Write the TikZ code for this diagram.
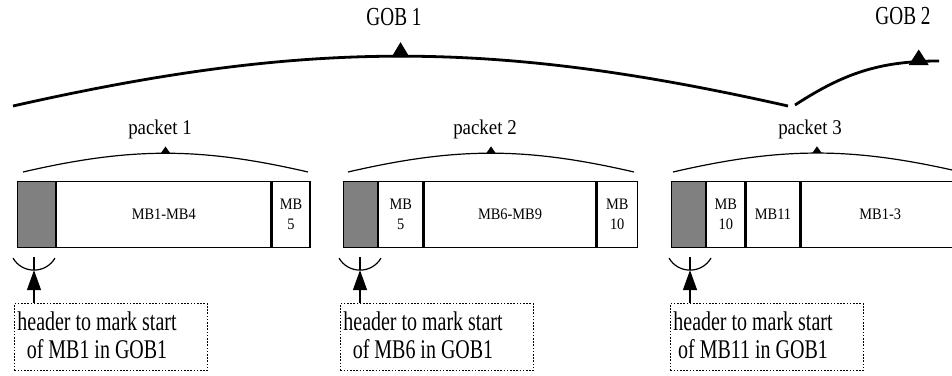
\documentclass[tikz,border=0pt]{standalone}
\usepackage{fontspec}
\setmainfont{Liberation Serif}
\newfontfamily\gobfamily{Liberation Serif}[FakeStretch=0.74]
\newfontfamily\cellfamily{Liberation Serif}[FakeStretch=0.9]
\usetikzlibrary{arrows.meta}

\definecolor{hdrgray}{RGB}{128,128,128}

\tikzset{
  gobarc/.style={line width=2.8pt},
  pktarc/.style={line width=1.2pt},
  thinline/.style={line width=1.2pt},
  gobtext/.style={inner sep=0pt, font=\gobfamily\fontsize{26}{28}\selectfont},
  pkttext/.style={inner sep=0pt, font=\cellfamily\fontsize{21}{24}\selectfont},
  cell/.style={draw, line width=1.2pt, minimum height=66, inner sep=0pt,
    anchor=south west, align=center,
    font=\cellfamily\fontsize{16}{20}\selectfont},
  hdrcell/.style={cell, fill=hdrgray},
  hdrbox/.style={draw, line width=0.9pt, dash pattern=on 1.6pt off 1.6pt,
    minimum width=193, minimum height=67, inner sep=0pt, anchor=south west},
  hdrtext/.style={inner sep=0pt, align=center,
    font=\gobfamily\fontsize{27}{28}\selectfont},
  hdrarrow/.style={line width=1.2pt, -{Triangle[length=20pt,width=14pt]}},
}

\begin{document}
\begin{tikzpicture}[x=1pt,y=1pt]
\useasboundingbox (0,0) rectangle (952,375);

% ---- GOB spans ----
\draw[gobarc] (13,269) to[bend left=12.7] coordinate[pos=0.5] (g1m) (788,269);
\fill (g1m) ++(-9,-1) -- ++(18,0) -- ++(-9,15) -- cycle;
\node[gobtext, anchor=base] (gob1) at (394,349) {GOB 1};

\draw[gobarc] (795,270) to[out=33,in=180] coordinate[pos=0.88] (g2m) (939,314);
\fill (g2m) ++(-10,-3.5) -- ++(20,0) -- ++(-10,15.5) -- cycle;
\node[gobtext, anchor=base] (gob2) at (903,350) {GOB 2};

% ---- packet spans ----
\draw[pktarc] (23,203) to[bend left=13] coordinate[pos=0.5] (k1m) (308,203);
\fill (k1m) ++(-4.5,0.3) -- ++(9,0) -- ++(-4.5,6.5) -- cycle;
\node[pkttext, anchor=base] (pk1) at (160,240) {packet 1};

\draw[pktarc] (348,203) to[bend left=13] coordinate[pos=0.5] (k2m) (634,203);
\fill (k2m) ++(-4.5,0.3) -- ++(9,0) -- ++(-4.5,6.5) -- cycle;
\node[pkttext, anchor=base] (pk2) at (485,240) {packet 2};

\draw[pktarc] (673,203) to[bend left=13] coordinate[pos=0.5] (k3m) (961,203);
\fill (k3m) ++(-4.5,0.3) -- ++(9,0) -- ++(-4.5,6.5) -- cycle;
\node[pkttext, anchor=base] (pk3) at (810,240) {packet 3};

% ---- packet 1 ----
\node[hdrcell, minimum width=38] (p1h) at (17,127) {};
\node[cell, minimum width=214] (p1a) at (p1h.south east) {MB1-MB4};
\node[cell, minimum width=38] (p1b) at (p1a.south east) {MB\\5};

% ---- packet 2 ----
\node[hdrcell, minimum width=34] (p2h) at (343,127) {};
\node[cell, minimum width=44] (p2a) at (p2h.south east) {MB\\5};
\node[cell, minimum width=172] (p2b) at (p2a.south east) {MB6-MB9};
\node[cell, minimum width=40] (p2c) at (p2b.south east) {MB\\10};

% ---- packet 3 ----
\node[hdrcell, minimum width=34] (p3h) at (671,127) {};
\node[cell, minimum width=38] (p3a) at (p3h.south east) {MB\\10};
\node[cell, minimum width=54] (p3b) at (p3a.south east) {MB11};
\node[cell, minimum width=158] (p3c) at (p3b.south east) {MB1-3};

% ---- header annotations ----
\foreach \i/\bx/\mb in {1/14/MB1, 2/340/MB6, 3/670/MB11} {
  \node[hdrbox] (hb\i) at (\bx,4) {};
  \node[hdrtext] (ht\i) at ([shift={(83,2)}]hb\i.west)
    {header to mark start\\of \mb{} in GOB1};
  \coordinate (tip\i) at ([shift={(20,33)}]hb\i.north west);
  \draw[hdrarrow] ([xshift=20]hb\i.north west) -- (tip\i);
  \draw[thinline] (tip\i) -- ++(0,13);
  \draw[thinline] (tip\i) ++(-21,12)
    .. controls +(9.4,-16) and +(-9.4,-16) .. ++(42,0);
}
\end{tikzpicture}
\end{document}
